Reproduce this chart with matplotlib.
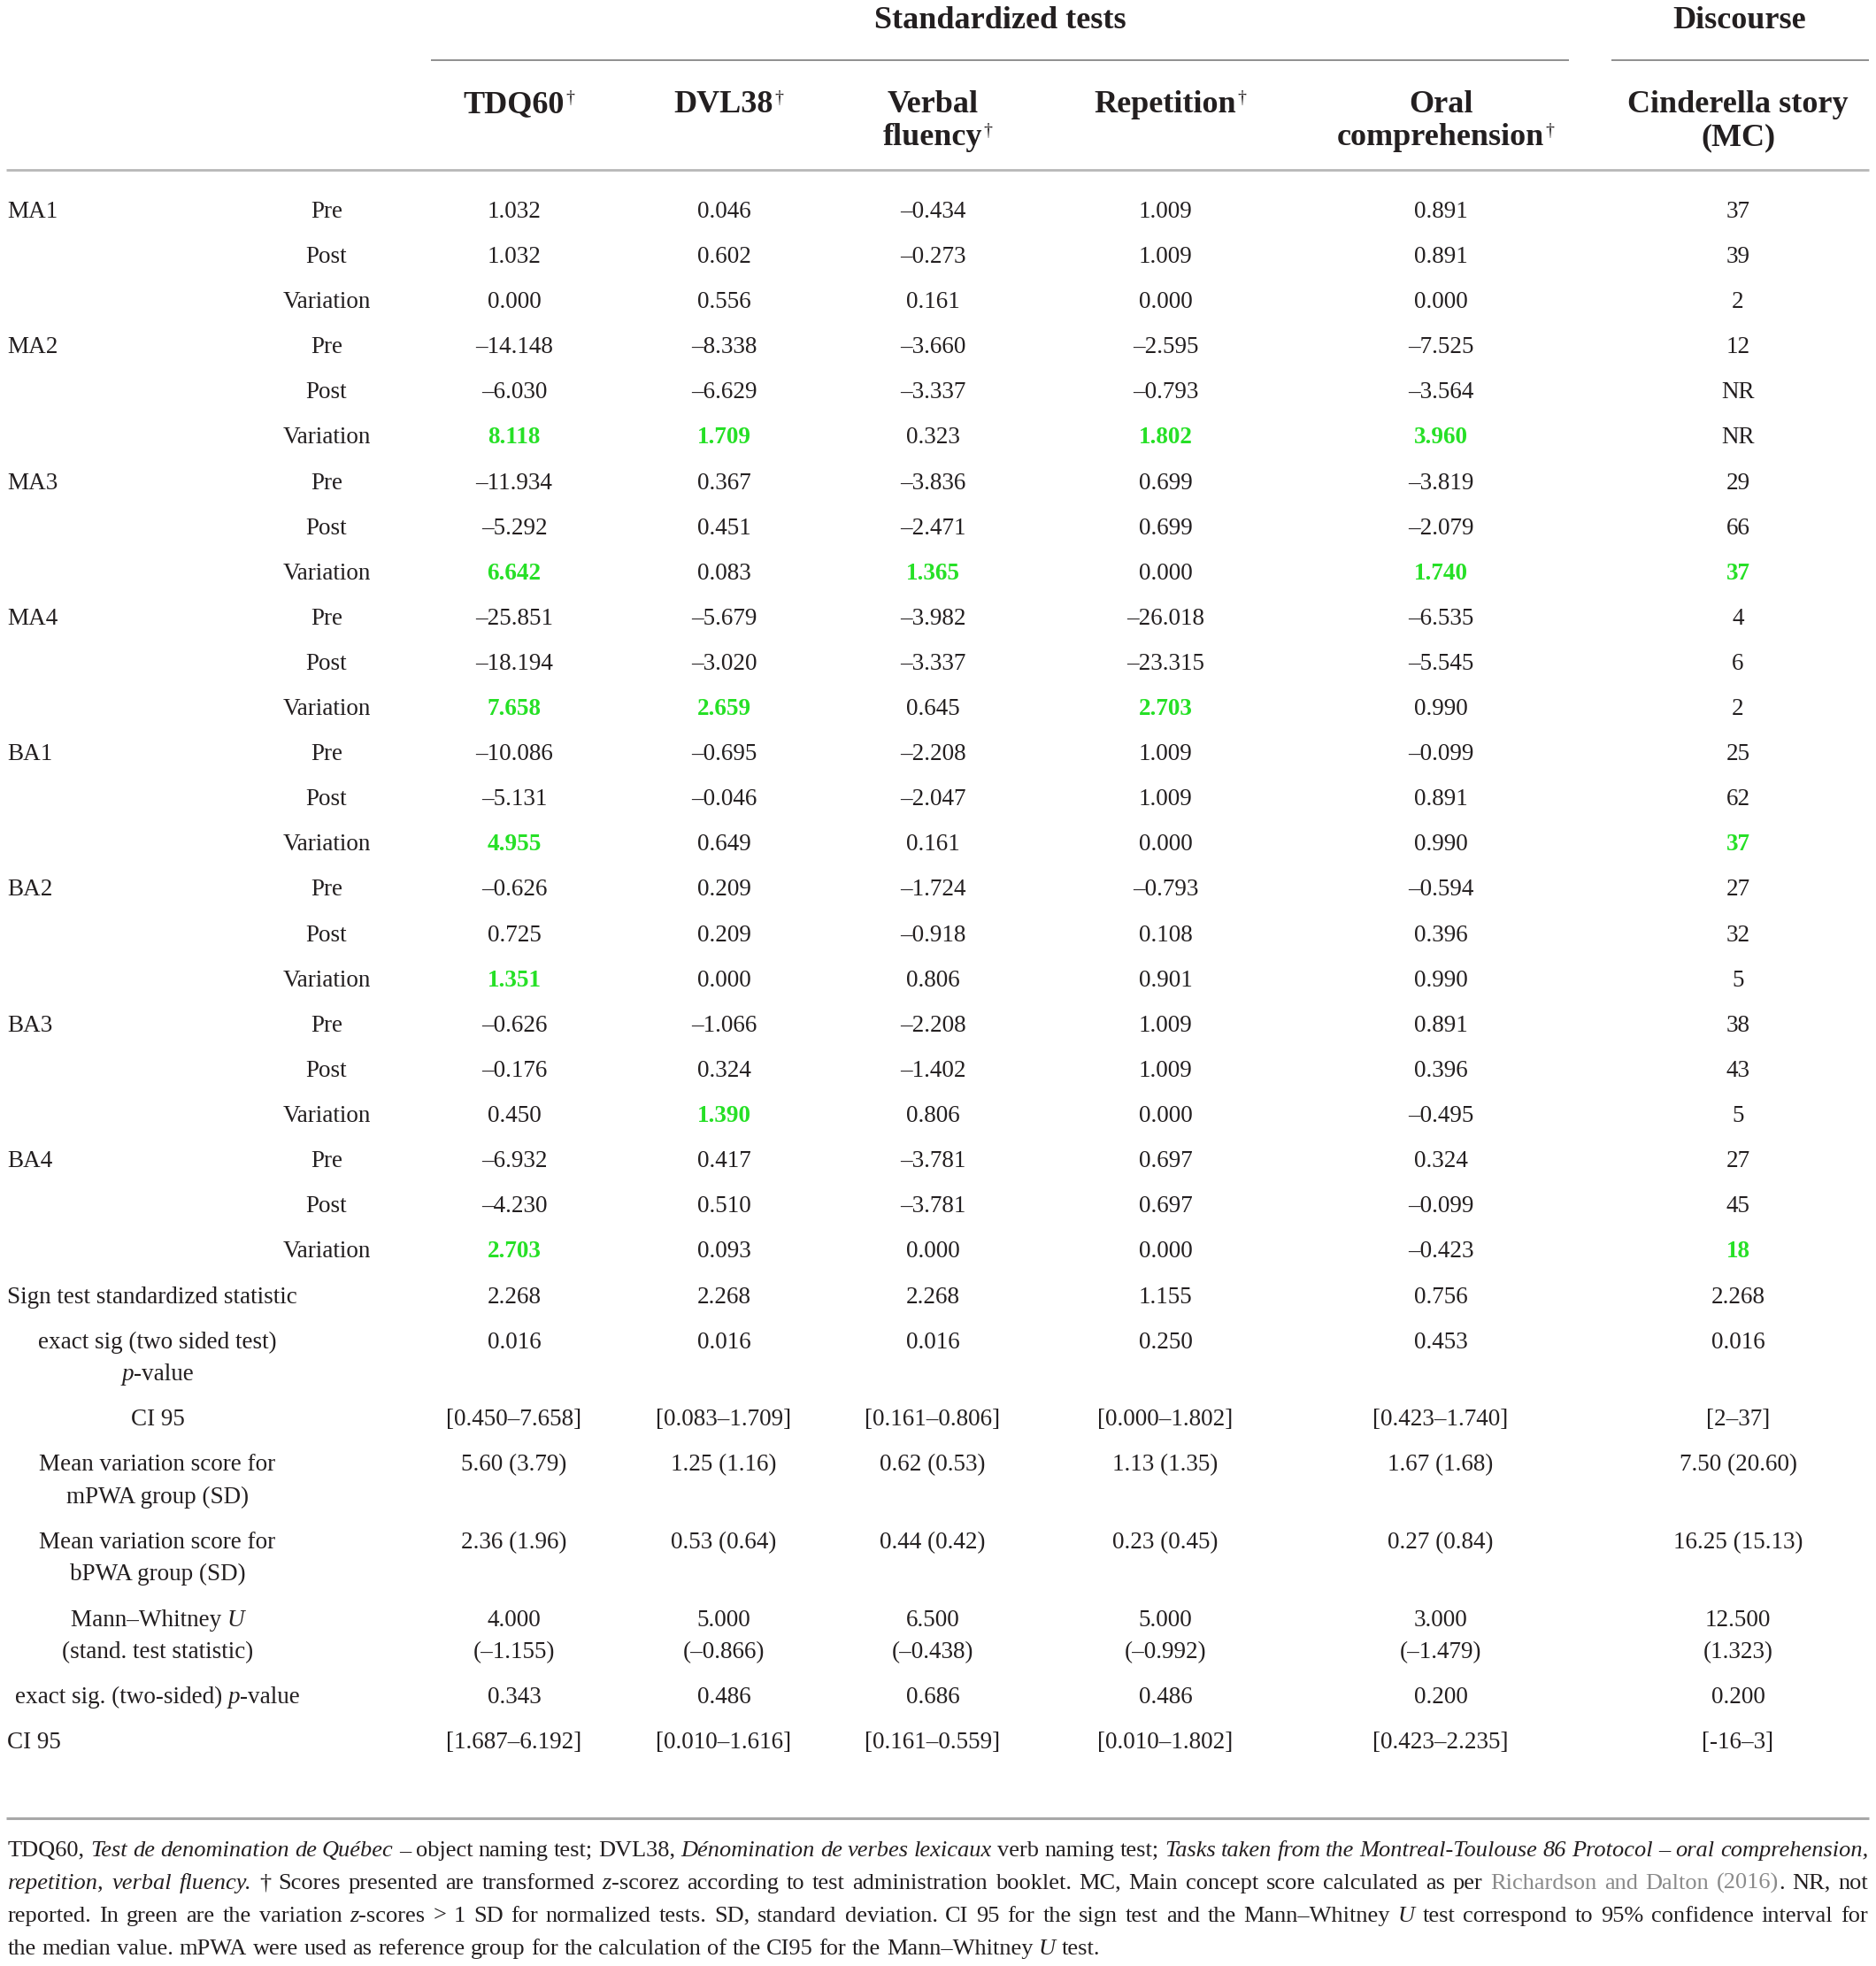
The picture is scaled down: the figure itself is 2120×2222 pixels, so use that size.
import matplotlib
matplotlib.use('Agg')
import matplotlib.pyplot as plt

# ---------------- data ----------------
participants = ['MA1', 'MA2', 'MA3', 'MA4', 'BA1', 'BA2', 'BA3', 'BA4']
phases = ['Pre', 'Post', 'Variation']

group_headers = ['Standardized tests', 'Discourse']
col_headers = [['TDQ60†'], ['DVL38†'], ['Verbal', 'fluency†'], ['Repetition†'],
               ['Oral', 'comprehension†'], ['Cinderella story', '(MC)']]

tdq60 = ['1.032', '1.032', '0.000', '–14.148', '–6.030', '8.118', '–11.934', '–5.292', '6.642',
         '–25.851', '–18.194', '7.658', '–10.086', '–5.131', '4.955', '–0.626', '0.725', '1.351',
         '–0.626', '–0.176', '0.450', '–6.932', '–4.230', '2.703']
dvl38 = ['0.046', '0.602', '0.556', '–8.338', '–6.629', '1.709', '0.367', '0.451', '0.083',
         '–5.679', '–3.020', '2.659', '–0.695', '–0.046', '0.649', '0.209', '0.209', '0.000',
         '–1.066', '0.324', '1.390', '0.417', '0.510', '0.093']
verbal_fluency = ['–0.434', '–0.273', '0.161', '–3.660', '–3.337', '0.323', '–3.836', '–2.471', '1.365',
                  '–3.982', '–3.337', '0.645', '–2.208', '–2.047', '0.161', '–1.724', '–0.918', '0.806',
                  '–2.208', '–1.402', '0.806', '–3.781', '–3.781', '0.000']
repetition = ['1.009', '1.009', '0.000', '–2.595', '–0.793', '1.802', '0.699', '0.699', '0.000',
              '–26.018', '–23.315', '2.703', '1.009', '1.009', '0.000', '–0.793', '0.108', '0.901',
              '1.009', '1.009', '0.000', '0.697', '0.697', '0.000']
oral_comprehension = ['0.891', '0.891', '0.000', '–7.525', '–3.564', '3.960', '–3.819', '–2.079', '1.740',
                      '–6.535', '–5.545', '0.990', '–0.099', '0.891', '0.990', '–0.594', '0.396', '0.990',
                      '0.891', '0.396', '–0.495', '0.324', '–0.099', '–0.423']
cinderella = ['37', '39', '2', '12', 'NR', 'NR', '29', '66', '37', '4', '6', '2', '25', '62', '37',
              '27', '32', '5', '38', '43', '5', '27', '45', '18']

# green (highlighted) cells: row indices per column
green_tdq60 = [5, 8, 11, 14, 17, 23]
green_dvl38 = [5, 11, 20]
green_verbal = [8]
green_repetition = [5, 11]
green_oral = [5, 8]
green_cinderella = [8, 14, 23]

sign_stat = ['2.268', '2.268', '2.268', '1.155', '0.756', '2.268']
sign_p = ['0.016', '0.016', '0.016', '0.250', '0.453', '0.016']
sign_ci = ['[0.450–7.658]', '[0.083–1.709]', '[0.161–0.806]', '[0.000–1.802]', '[0.423–1.740]', '[2–37]']
mean_m = ['5.60 (3.79)', '1.25 (1.16)', '0.62 (0.53)', '1.13 (1.35)', '1.67 (1.68)', '7.50 (20.60)']
mean_b = ['2.36 (1.96)', '0.53 (0.64)', '0.44 (0.42)', '0.23 (0.45)', '0.27 (0.84)', '16.25 (15.13)']
mw_u = ['4.000', '5.000', '6.500', '5.000', '3.000', '12.500']
mw_stat = ['(–1.155)', '(–0.866)', '(–0.438)', '(–0.992)', '(–1.479)', '(1.323)']
mw_p = ['0.343', '0.486', '0.686', '0.486', '0.200', '0.200']
mw_ci = ['[1.687–6.192]', '[0.010–1.616]', '[0.161–0.559]', '[0.010–1.802]', '[0.423–2.235]', '[-16–3]']

footnote_lines = [
    "TDQ60, *Test de denomination de Québec* – object naming test; DVL38, *Dénomination de verbes lexicaux* verb naming test; *Tasks taken from the Montreal-Toulouse 86 Protocol – oral comprehension,*",
    "*repetition, verbal fluency.* † Scores presented are transformed *z*-scorez according to test administration booklet. MC, Main concept score calculated as per ~Richardson and Dalton (2016)~. NR, not",
    "reported. In green are the variation *z*-scores > 1 SD for normalized tests. SD, standard deviation. CI 95 for the sign test and the Mann–Whitney *U* test correspond to 95% confidence interval for",
    "the median value. mPWA were used as reference group for the calculation of the CI95 for the Mann–Whitney *U* test.",
]

# ---------------- layout / style ----------------
W, H, DPI = 2120, 2222, 100
FONT = 'Liberation Serif'
BODY = 19.5
HEAD = 26
GREEN = '#26e026'
TXT = '#231f20'

fig = plt.figure(figsize=(W / DPI, H / DPI), dpi=DPI)
ax = fig.add_axes([0, 0, 1, 1])
ax.set_xlim(0, W)
ax.set_ylim(H, 0)
ax.axis('off')
renderer = fig.canvas.get_renderer()


def px(pt):
    return pt * DPI / 72.0


def measure(s, size, weight='normal', style='normal'):
    t = ax.text(0, 0, s, fontsize=size, family=FONT, weight=weight, style=style)
    bb = t.get_window_extent(renderer)
    t.remove()
    return bb.width


def put(x, y, s, size=BODY, ha='center', weight='normal', style='normal', color=TXT):
    base = y + 0.33 * px(size)
    return ax.text(x, base, s, fontsize=size, family=FONT, weight=weight, style=style,
                   color=color, ha=ha, va='baseline')


def rich(x, y, segs, size=BODY, ha='left'):
    widths = [measure(s, size, w, st) for s, st, c, w in segs]
    tot = sum(widths)
    x0 = x if ha == 'left' else x - tot / 2
    for (s, st, c, w), wd in zip(segs, widths):
        put(x0, y, s, size=size, ha='left', weight=w, style=st, color=c)
        x0 += wd


def header(x, y, s):
    dag = s.endswith('†')
    main = s[:-1] if dag else s
    put(x, y, main, size=HEAD, weight='bold')
    if dag:
        wd = measure(main, HEAD, 'bold')
        ax.text(x + wd / 2 + 1, y - 0.37 * px(HEAD), '†', fontsize=HEAD * 0.55, family=FONT,
                color=TXT, ha='left', va='top')


col_x = [581, 818, 1054, 1317, 1628, 1964]

# group headers and rules
put((487 + 1773) / 2, 20, group_headers[0], size=HEAD, weight='bold')
put(1966, 20, group_headers[1], size=HEAD, weight='bold')
ax.hlines(68, 487, 1773, color='#8f8f8f', lw=1.4)
ax.hlines(68, 1821, 2112, color='#8f8f8f', lw=1.4)

for cx, lines in zip(col_x, col_headers):
    for k, ln in enumerate(lines):
        header(cx, 115 + 37 * k, ln)
ax.hlines(192, 7, 2112, color='#b8b8b8', lw=2.0)

# data rows
columns = [tdq60, dvl38, verbal_fluency, repetition, oral_comprehension, cinderella]
greens = [green_tdq60, green_dvl38, green_verbal, green_repetition, green_oral, green_cinderella]
Y0, DY = 237, 51.1
for i in range(len(participants) * len(phases)):
    y = Y0 + DY * i
    if i % 3 == 0:
        put(8, y, participants[i // 3], ha='left')
    put(369, y, phases[i % 3])
    for cx, col, g in zip(col_x, columns, greens):
        if i in g:
            put(cx, y, col[i], weight='bold', color=GREEN)
        else:
            put(cx, y, col[i])


def S(s, st='normal'):
    return (s, st, TXT, 'normal')


LX = 178
put(8, 1464, 'Sign test standardized statistic', ha='left')
put(LX, 1515, 'exact sig (two sided test)')
rich(LX, 1551, [S('p', 'italic'), S('-value')], ha='center')
put(LX, 1602, 'CI 95')
put(LX, 1653, 'Mean variation score for')
put(LX, 1690, 'mPWA group (SD)')
put(LX, 1741, 'Mean variation score for')
put(LX, 1777, 'bPWA group (SD)')
rich(LX, 1829, [S('Mann–Whitney '), S('U', 'italic')], ha='center')
put(LX, 1865, '(stand. test statistic)')
rich(LX, 1916, [S('exact sig. (two-sided) '), S('p', 'italic'), S('-value')], ha='center')
put(8, 1967, 'CI 95', ha='left')

for j, cx in enumerate(col_x):
    put(cx, 1464, sign_stat[j])
    put(cx, 1515, sign_p[j])
    put(cx, 1602, sign_ci[j])
    put(cx, 1653, mean_m[j])
    put(cx, 1741, mean_b[j])
    put(cx, 1829, mw_u[j])
    put(cx, 1865, mw_stat[j])
    put(cx, 1916, mw_p[j])
    put(cx, 1967, mw_ci[j])

ax.hlines(2055, 7, 2112, color='#a8a8a8', lw=2.2)


# footnote, justified
def parse(line):
    words, cur, seg = [], [], ''
    italic = gray = False

    def flush_seg():
        nonlocal seg
        if seg:
            cur.append((seg, 'italic' if italic else 'normal', '#8a8a8a' if gray else TXT, 'normal'))
        seg = ''

    for ch in line:
        if ch == '*':
            flush_seg(); italic = not italic
        elif ch == '~':
            flush_seg(); gray = not gray
        elif ch == ' ':
            flush_seg()
            if cur:
                words.append(cur)
            cur = []
        else:
            seg += ch
    flush_seg()
    if cur:
        words.append(cur)
    return words


FX0, FX1 = 9, 2111
FY = [2089, 2126, 2163, 2200]
parsed = [parse(l) for l in footnote_lines]

FOOT = 20.0
while FOOT > 12:
    ok = True
    for words in parsed[:-1]:
        tot = sum(measure(s, FOOT, w, st) for wd in words for s, st, c, w in wd)
        if tot + (len(words) - 1) * 0.2 * px(FOOT) > FX1 - FX0:
            ok = False
            break
    if ok:
        break
    FOOT -= 0.25

for li, words in enumerate(parsed):
    wws = [[measure(s, FOOT, w, st) for s, st, c, w in wd] for wd in words]
    tot = sum(sum(w) for w in wws)
    if li < len(parsed) - 1:
        gap = (FX1 - FX0 - tot) / (len(words) - 1)
    else:
        gap = 0.25 * px(FOOT)
    x = FX0
    for wd, ws in zip(words, wws):
        for (s, st, c, w), sw in zip(wd, ws):
            put(x, FY[li], s, size=FOOT, ha='left', style=st, color=c, weight=w)
            x += sw
        x += gap

fig.savefig('out.png', dpi=DPI, facecolor='white')
